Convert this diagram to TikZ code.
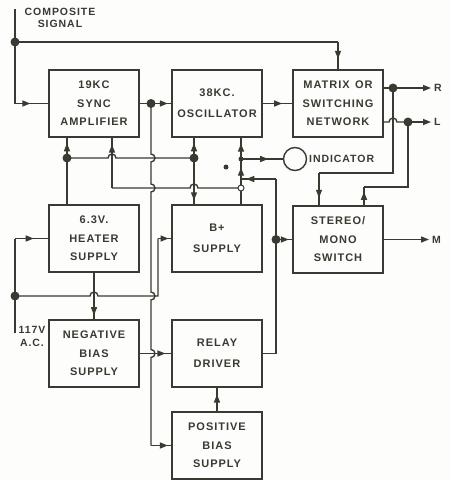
\documentclass[tikz,border=0pt]{standalone}
\usepackage{fontspec}
\newfontfamily\blockfont{Liberation Sans}[LetterSpace=9]
\usetikzlibrary{positioning,arrows.meta,decorations.markings,calc}
\definecolor{ink}{HTML}{3A3A32}
\definecolor{paper}{HTML}{FDFDFB}

\begin{document}
\begin{tikzpicture}[
  x=1pt, y=-1pt,
  >={Triangle[length=8pt,width=6pt]},
  box/.style={draw=ink, line width=1.6pt, minimum width=90pt, minimum height=67pt,
              inner sep=0pt, outer sep=0pt, align=center, text=ink,
              font=\blockfont\bfseries\fontsize{11}{18.5}\selectfont},
  twoline/.style={font=\blockfont\bfseries\fontsize{11}{21}\selectfont},
  wire/.style={draw=ink, line width=1.4pt},
  arrat/.style={postaction={decorate}, decoration={markings,
      mark=at position #1 with {\arrow[ink]{Triangle[length=8pt,width=6pt]}}}},
  arrat/.default=0.5,
  dot/.style={circle, fill=ink, inner sep=0pt, minimum size=#1},
  dot/.default=9pt,
  hole/.style={circle, draw=ink, fill=white, line width=1pt, inner sep=0pt, minimum size=6pt},
  lbl/.style={text=ink, align=center, inner sep=0pt,
              font=\blockfont\bfseries\fontsize{10.5}{12.5}\selectfont}
]
\fill[paper] (0,0) rectangle (451,480);
\useasboundingbox (0,0) rectangle (451,480);

% blocks
\node[box] (sync) at (94,103.5) {19KC\\SYNC\\AMPLIFIER};
\node[box, twoline, right=33pt of sync] (osc) {38KC.\\OSCILLATOR};
\node[box, right=31pt of osc] (matrix) {MATRIX\enspace OR\\SWITCHING\\NETWORK};
\node[box, below=68pt of sync] (heater) {6.3V.\\HEATER\\SUPPLY};
\node[box, twoline, below=68pt of osc] (bplus) {B+\\SUPPLY};
\node[box, below=69pt of matrix] (stereo) {STEREO/\\MONO\\SWITCH};
\node[box, below=48pt of heater] (negbias) {NEGATIVE\\BIAS\\SUPPLY};
\node[box, twoline, below=48pt of bplus] (relay) {RELAY\\DRIVER};
\node[box, below=25pt of relay] (posbias) {POSITIVE\\BIAS\\SUPPLY};
\node[draw=ink, line width=1.4pt, circle, minimum size=23pt, inner sep=0pt] (ind) at (295,159) {};

% labels
\node[lbl] (comp) at (60,18) {COMPOSITE\\SIGNAL};
\node[lbl] (ac) at (32,336.5) {117V\\A.C.};
\node[lbl, anchor=west] (indtxt) at (309,159) {INDICATOR};
\node[lbl, anchor=west] (rlbl) at (434,88) {R};
\node[lbl, anchor=west] (llbl) at (434,122) {L};
\node[lbl, anchor=west] (mlbl) at (432,240) {M};

% composite signal in
\coordinate (csig) at (15,9);
\coordinate (cj) at (15,42);
\coordinate (cin) at (15,103.5);
\draw[wire] (csig) -- (cin);
\draw[wire, arrat=0.45] (cin) -- (sync.west);
\draw[wire] (cj) -- (cj -| matrix.north);
\draw[wire, arrat=0.6] (cj -| matrix.north) -- (matrix.north);

% sync -> osc -> matrix
\coordinate (sj) at (151,103.5);
\draw[wire] (sync.east) -- (sj);
\draw[wire, arrat=0.8] (sj) -- (osc.west);
\draw[wire, arrat=0.65] (osc.east) -- (matrix.west);

% sync output down to positive bias
\draw[wire] (sj) -- (151,154) arc[start angle=90, end angle=-90, radius=4pt]
  -- (151,184) arc[start angle=90, end angle=-90, radius=4pt]
  -- (151,292) arc[start angle=90, end angle=-90, radius=4pt]
  -- (151,349.5) arc[start angle=90, end angle=-90, radius=4pt]
  -- (151,445.5) coordinate (pin);
\draw[wire, arrat=0.8] (pin) -- (posbias.west);

% heater feeds
\coordinate (hj) at (67,158);
\coordinate (oj) at (194,158);
\draw[wire] (hj |- heater.north) -- (hj);
\draw[wire, arrat=0.7] (hj) -- (hj |- sync.south);
\draw[wire] (hj) -- (108,158) arc[start angle=180, end angle=0, radius=4pt] -- (oj);
\draw[wire, arrat=0.7] (oj) -- (oj |- osc.south);
\draw[wire, arrat=0.9] (oj) -- (oj |- bplus.north);

% B+ distribution
\coordinate (bo) at (241,188);
\coordinate (ij) at (241,159);
\coordinate (bj) at (112,188);
\draw[wire] (bplus.north -| bo) -- (bo);
\draw[wire, arrat=0.7] (bo) -- (ij);
\draw[wire, arrat=0.7] (ij) -- (ij |- osc.south);
\draw[wire, arrat=0.65] (ij) -- (ind.west);
\draw[wire] (bo) -- (198,188) arc[start angle=0, end angle=180, radius=4pt] -- (bj);
\draw[wire, arrat=0.85] (bj) -- (bj |- sync.south);

% relay driver output
\coordinate (rt) at (276,179);
\coordinate (sw) at (276,239.5);
\draw[wire] (relay.east) -| (rt);
\draw[wire, arrat=0.85] (rt) -- (rt -| bo);
\draw[wire, arrat=0.75] (sw) -- (stereo.west);

% matrix outputs
\coordinate (rj) at (393,88);
\coordinate (lj) at (408,122);
\coordinate (rend) at (431,88);
\coordinate (lend) at (431,122);
\coordinate (rs) at (319,173);
\coordinate (ls) at (364,187);
\draw[wire] (matrix.east |- rj) -- (rj);
\draw[wire, ->] (rj) -- (rend);
\draw[wire] (matrix.east |- lj) -- (389,122) arc[start angle=180, end angle=0, radius=4pt] -- (lj);
\draw[wire, ->] (lj) -- (lend);
\draw[wire] (rj) |- (rs);
\draw[wire, arrat=0.75] (rs) -- (rs |- stereo.north);
\draw[wire] (lj) |- (ls);
\draw[wire, arrat=0.75] (ls |- stereo.north) -- (ls);

% stereo/mono out
\coordinate (mend) at (429,239.5);
\draw[wire, ->] (stereo.east) -- (mend);

% mains
\coordinate (acin) at (15,333);
\coordinate (acj) at (15,296);
\coordinate (bin) at (158,238.5);
\draw[wire] (acin) -- (acj) -- (acj |- heater.west) coordinate (hin);
\draw[wire, arrat=0.55] (hin) -- (heater.west);
\draw[wire] (acj) -- (90,296) arc[start angle=180, end angle=0, radius=4pt] -- (158,296) -- (bin);
\draw[wire, arrat=0.75] (bin) -- (bplus.west);
\draw[wire, arrat=0.9] (heater.south) -- (negbias.north);
\draw[wire, arrat=0.8] (negbias.east) -- (relay.west);
\draw[wire, arrat=0.7] (posbias.north) -- (relay.south);

% junctions
\foreach \j in {cj,sj,hj,oj,rj,lj,sw,acj}
  \node[dot] (d\j) at (\j) {};
\node[dot=5pt] (dij) at (ij) {};
\node[hole] (dbo) at (bo) {};
\node[dot=5pt] (spot) at (226,167) {};
\end{tikzpicture}
\end{document}
